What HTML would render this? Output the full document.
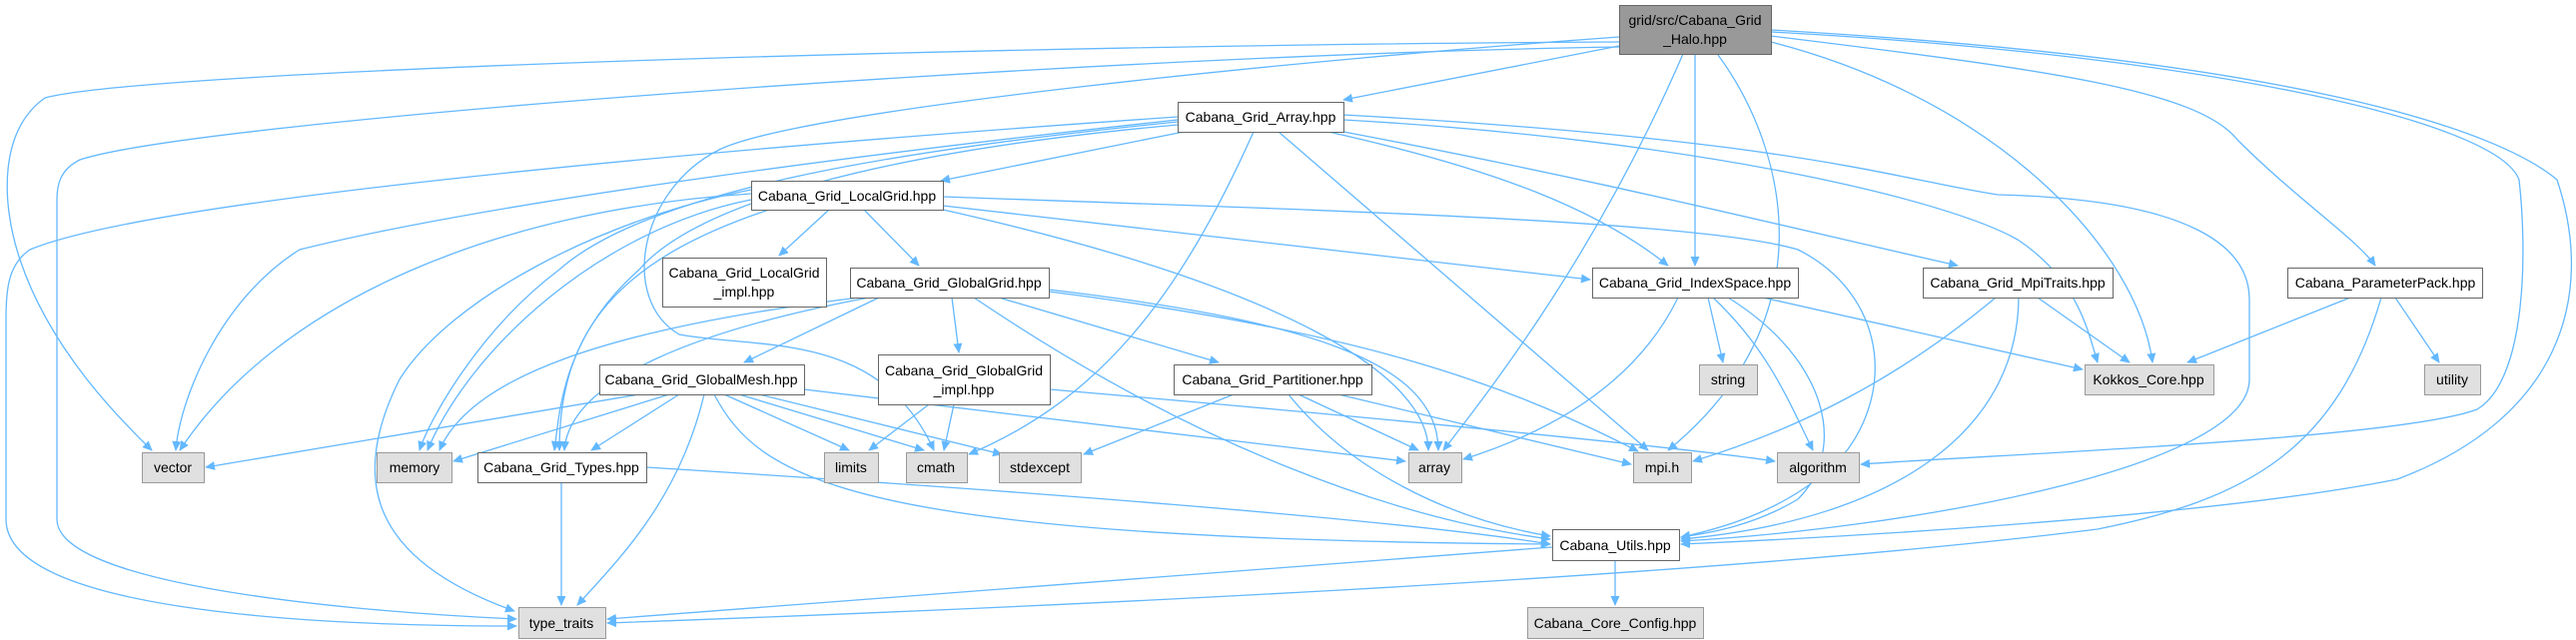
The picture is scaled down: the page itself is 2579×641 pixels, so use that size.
<!DOCTYPE html>
<html><head><meta charset="utf-8"><style>
html,body{margin:0;padding:0;background:#fff;}
svg{display:block;}
text{font-family:"Liberation Sans",sans-serif;font-size:14px;fill:#000;}
</style></head><body>
<svg width="2579" height="641" viewBox="0 0 2579 641" xmlns="http://www.w3.org/2000/svg">
<defs>
<marker id="a" markerWidth="10" markerHeight="10" refX="9" refY="5" orient="auto" markerUnits="userSpaceOnUse">
<path d="M0,0.5 L10,5 L0,9.5 z" fill="#63b8ff"/>
</marker>
</defs>
<g fill="none" stroke="#63b8ff" stroke-width="1.3" marker-end="url(#a)">
<!-- Halo -->
<path d="M1621,42 C1000,45 150,70 45,98 C0,130 0,200 20,260 C50,350 120,420 152,451"/>
<path d="M1621,47 C1100,55 200,120 80,160 C60,170 57,185 57,200 L57,520 C57,580 300,610 517,620"/>
<path d="M1621,46 L1345,100"/>
<path d="M1621,37 C1300,60 800,110 720,150 C640,190 620,300 680,335 C760,350 880,330 935,451"/>
<path d="M1697,54 L1697,266"/>
<path d="M1685,54 C1600,250 1500,380 1445,451"/>
<path d="M1720,55 C1790,150 1830,320 1670,451"/>
<path d="M1773,42 C2000,100 2140,250 2155,363"/>
<path d="M1773,36 C2050,70 2200,90 2240,140 C2300,200 2360,240 2378,266"/>
<path d="M1773,32 C2200,55 2500,120 2522,180 C2530,250 2530,380 2480,410 C2400,440 2000,455 1863,465"/>
<path d="M1773,30 C2300,60 2500,130 2560,180 C2600,300 2560,420 2400,480 C2200,520 1800,540 1683,545"/>
<!-- Array -->
<path d="M1185,132 L942,181"/>
<path d="M1179,117 C700,150 150,200 30,250 C8,265 6,290 6,320 L6,520 C6,610 300,627 517,627"/>
<path d="M1179,120 C900,150 500,200 300,250 C220,300 180,400 176,451"/>
<path d="M1179,122 C900,150 650,190 560,270 C480,330 430,420 420,451"/>
<path d="M1179,125 C900,150 700,200 640,270 C560,340 560,420 555,451"/>
<path d="M1255,132 C1180,300 1100,400 970,455"/>
<path d="M1280,132 L1650,451"/>
<path d="M1330,132 C1500,170 1600,210 1670,266"/>
<path d="M1345,132 C1600,180 1800,230 1960,266"/>
<path d="M1345,120 C1700,140 1950,200 2020,240 C2080,280 2090,330 2100,363"/>
<path d="M1345,115 C1800,140 1900,180 2000,195 C2200,200 2252,250 2252,300 L2252,380 C2252,470 1900,530 1683,542"/>
<!-- LocalGrid -->
<path d="M830,210 L780,256"/>
<path d="M865,210 L920,266"/>
<path d="M944,206 L1592,280"/>
<path d="M752,194 C500,210 280,300 180,451"/>
<path d="M752,200 C600,230 470,350 428,451"/>
<path d="M770,210 C620,260 560,330 560,451"/>
<path d="M752,190 C600,220 450,300 400,380 C350,480 370,560 515,612"/>
<path d="M944,210 C1300,290 1430,380 1430,451"/>
<path d="M944,197 C1300,210 1700,220 1800,250 C1880,290 1900,380 1850,450 C1800,510 1720,530 1683,538"/>
<!-- GlobalGrid -->
<path d="M880,298 L745,363"/>
<path d="M953,298 L960,353"/>
<path d="M1000,298 L1220,363"/>
<path d="M860,298 C600,330 470,380 440,451"/>
<path d="M870,298 C700,330 570,380 565,451"/>
<path d="M1050,290 C1300,320 1440,360 1440,451"/>
<path d="M1050,292 C1350,330 1500,380 1640,452"/>
<path d="M975,298 C1200,450 1400,520 1552,540"/>
<!-- GG impl -->
<path d="M930,405 L870,451"/>
<path d="M955,405 L945,451"/>
<path d="M1051,390 C1400,420 1700,450 1777,462"/>
<!-- Partitioner -->
<path d="M1235,395 L1085,455"/>
<path d="M1300,395 L1420,451"/>
<path d="M1340,395 L1633,465"/>
<path d="M1290,395 C1350,470 1450,520 1552,537"/>
<!-- GlobalMesh -->
<path d="M640,395 L206,468"/>
<path d="M670,395 L454,462"/>
<path d="M680,395 L592,451"/>
<path d="M705,395 C680,500 620,560 578,606"/>
<path d="M725,395 L850,451"/>
<path d="M740,395 L925,451"/>
<path d="M760,395 L1003,455"/>
<path d="M805,390 L1407,462"/>
<path d="M715,395 C760,480 850,540 1552,545"/>
<!-- IndexSpace -->
<path d="M1710,298 L1725,363"/>
<path d="M1680,298 C1640,380 1560,430 1465,460"/>
<path d="M1715,298 C1770,350 1790,400 1815,451"/>
<path d="M1730,298 C1830,360 1850,450 1800,500 C1750,530 1700,535 1683,538"/>
<path d="M1765,298 L2085,370"/>
<!-- MpiTraits -->
<path d="M1998,298 C1900,380 1800,430 1695,462"/>
<path d="M2040,298 L2132,363"/>
<path d="M2021,298 C2020,430 1900,520 1683,540"/>
<!-- ParamPack -->
<path d="M2353,298 L2190,363"/>
<path d="M2398,298 L2442,363"/>
<path d="M2384,298 C2340,450 2250,500 2100,530 C1700,580 1000,610 608,624"/>
<!-- Utils / Types -->
<path d="M1554,548 C1200,575 800,605 608,620"/>
<path d="M1617,561 L1617,606"/>
<path d="M562,483 L562,606"/>
<path d="M647,468 C1000,490 1400,520 1552,545"/>
</g>
<g stroke-width="1">
<rect x="1621.5" y="5.5" width="152" height="49" fill="#999" stroke="#666"/>
<rect x="1179.5" y="102.5" width="166" height="30" fill="#fff" stroke="#666"/>
<rect x="752.5" y="181.5" width="192" height="29" fill="#fff" stroke="#666"/>
<rect x="663.5" y="258.5" width="164" height="49" fill="#fff" stroke="#666"/>
<rect x="851.5" y="268.5" width="199" height="30" fill="#fff" stroke="#666"/>
<rect x="1594.5" y="268.5" width="206" height="30" fill="#fff" stroke="#666"/>
<rect x="1925.5" y="268.5" width="190" height="30" fill="#fff" stroke="#666"/>
<rect x="2290.5" y="268.5" width="195" height="30" fill="#fff" stroke="#666"/>
<rect x="600.5" y="365.5" width="205" height="30" fill="#fff" stroke="#666"/>
<rect x="879.5" y="355.5" width="172" height="50" fill="#fff" stroke="#666"/>
<rect x="1175.5" y="365.5" width="198" height="30" fill="#fff" stroke="#666"/>
<rect x="1701.5" y="365.5" width="58" height="30" fill="#e0e0e0" stroke="#999"/>
<rect x="2087.5" y="365.5" width="129" height="30" fill="#e0e0e0" stroke="#999"/>
<rect x="2427.5" y="365.5" width="56" height="30" fill="#e0e0e0" stroke="#999"/>
<rect x="142.5" y="453.5" width="62" height="30" fill="#e0e0e0" stroke="#999"/>
<rect x="377.5" y="453.5" width="75" height="30" fill="#e0e0e0" stroke="#999"/>
<rect x="478.5" y="453.5" width="169" height="30" fill="#fff" stroke="#666"/>
<rect x="825.5" y="453.5" width="54" height="30" fill="#e0e0e0" stroke="#999"/>
<rect x="907.5" y="453.5" width="61" height="30" fill="#e0e0e0" stroke="#999"/>
<rect x="1000.5" y="453.5" width="82" height="30" fill="#e0e0e0" stroke="#999"/>
<rect x="1410.5" y="453.5" width="53" height="30" fill="#e0e0e0" stroke="#999"/>
<rect x="1635.5" y="453.5" width="58" height="30" fill="#e0e0e0" stroke="#999"/>
<rect x="1779.5" y="453.5" width="82" height="30" fill="#e0e0e0" stroke="#999"/>
<rect x="1554.5" y="530.5" width="127" height="31" fill="#fff" stroke="#666"/>
<rect x="519.5" y="608.5" width="87" height="31" fill="#e0e0e0" stroke="#999"/>
<rect x="1529.5" y="608.5" width="176" height="31" fill="#e0e0e0" stroke="#999"/>
</g>
<g text-anchor="middle">
<text x="1697" y="25">grid/src/Cabana_Grid</text>
<text x="1697" y="44">_Halo.hpp</text>
<text x="1262" y="122">Cabana_Grid_Array.hpp</text>
<text x="848" y="201">Cabana_Grid_LocalGrid.hpp</text>
<text x="745" y="278">Cabana_Grid_LocalGrid</text>
<text x="745" y="297">_impl.hpp</text>
<text x="950" y="288">Cabana_Grid_GlobalGrid.hpp</text>
<text x="1697" y="288">Cabana_Grid_IndexSpace.hpp</text>
<text x="2020" y="288">Cabana_Grid_MpiTraits.hpp</text>
<text x="2388" y="288">Cabana_ParameterPack.hpp</text>
<text x="702" y="385">Cabana_Grid_GlobalMesh.hpp</text>
<text x="965" y="376">Cabana_Grid_GlobalGrid</text>
<text x="965" y="395">_impl.hpp</text>
<text x="1274" y="385">Cabana_Grid_Partitioner.hpp</text>
<text x="1730" y="385">string</text>
<text x="2151" y="385">Kokkos_Core.hpp</text>
<text x="2455" y="385">utility</text>
<text x="173" y="473">vector</text>
<text x="415" y="473">memory</text>
<text x="562" y="473">Cabana_Grid_Types.hpp</text>
<text x="852" y="473">limits</text>
<text x="937" y="473">cmath</text>
<text x="1041" y="473">stdexcept</text>
<text x="1436" y="473">array</text>
<text x="1664" y="473">mpi.h</text>
<text x="1820" y="473">algorithm</text>
<text x="1617" y="551">Cabana_Utils.hpp</text>
<text x="562" y="629">type_traits</text>
<text x="1617" y="629">Cabana_Core_Config.hpp</text>
</g>
</svg>
</body></html>
